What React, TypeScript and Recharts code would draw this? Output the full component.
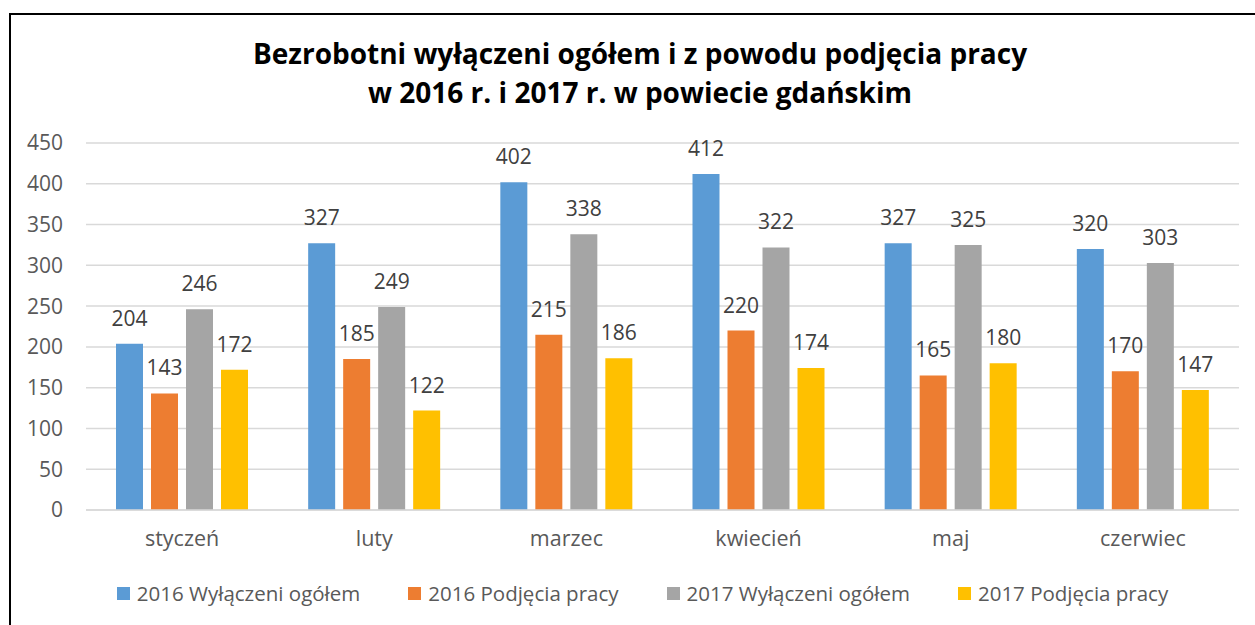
import { Bar, BarChart, CartesianGrid, LabelList, XAxis, YAxis } from "recharts";

const months = ["styczeń", "luty", "marzec", "kwiecień", "maj", "czerwiec"];
const total2016 = [204, 327, 402, 412, 327, 320];
const work2016 = [143, 185, 215, 220, 165, 170];
const total2017 = [246, 249, 338, 322, 325, 303];
const work2017 = [172, 122, 186, 174, 180, 147];
const yTicks = [0, 50, 100, 150, 200, 250, 300, 350, 400, 450];

const series = [
  { key: "t16", name: "2016 Wyłączeni ogółem", color: "#5B9BD5" },
  { key: "w16", name: "2016 Podjęcia pracy", color: "#ED7D31" },
  { key: "t17", name: "2017 Wyłączeni ogółem", color: "#A5A5A5" },
  { key: "w17", name: "2017 Podjęcia pracy", color: "#FFC000" },
];

const data = months.map((m, i) => ({
  month: m,
  t16: total2016[i],
  w16: work2016[i],
  t17: total2017[i],
  w17: work2017[i],
}));

const font = "'Open Sans', sans-serif";

export default function App() {
  return (
    <div
      style={{
        position: "fixed",
        inset: 0,
        overflow: "hidden",
        background: "#fff",
        fontFamily: font,
      }}
    >
      <div
        style={{
          position: "absolute",
          left: 9,
          top: 13,
          width: 1300,
          height: 700,
          border: "2px solid #000",
          boxSizing: "border-box",
        }}
      />
      <div
        style={{
          position: "absolute",
          left: 0,
          top: 34,
          width: 1280,
          textAlign: "center",
          fontWeight: 700,
          fontSize: 28,
          lineHeight: "39px",
          color: "#000",
        }}
      >
        Bezrobotni wyłączeni ogółem i z powodu podjęcia pracy
        <br />w 2016 r. i 2017 r. w powiecie gdańskim
      </div>
      <div style={{ position: "absolute", left: 0, top: 0 }}>
        <BarChart
          width={1255}
          height={560}
          data={data}
          margin={{ top: 143, right: 16, left: 0, bottom: 5 }}
          barSize={27}
          barGap={8}
        >
          <CartesianGrid vertical={false} stroke="#D9D9D9" strokeWidth={1.5} />
          <XAxis
            dataKey="month"
            height={45}
            tickLine={false}
            tickSize={0}
            tickMargin={21}
            axisLine={{ stroke: "#D9D9D9", strokeWidth: 1.5 }}
            tick={{ fill: "#595959", fontSize: 21.5, fontFamily: font }}
          />
          <YAxis
            width={86}
            domain={[0, 450]}
            ticks={yTicks}
            axisLine={false}
            tickLine={false}
            tickSize={0}
            tickMargin={23}
            tick={{ fill: "#595959", fontSize: 21, fontFamily: font }}
          />
          {series.map((s) => (
            <Bar key={s.key} dataKey={s.key} name={s.name} fill={s.color} isAnimationActive={false}>
              <LabelList
                dataKey={s.key}
                position="top"
                offset={18}
                fill="#404040"
                fontSize={21}
                fontFamily={font}
              />
            </Bar>
          ))}
        </BarChart>
      </div>
      <div
        style={{
          position: "absolute",
          left: 0,
          top: 579,
          width: 1285,
          display: "flex",
          justifyContent: "center",
          gap: 48,
          fontSize: 20.5,
          color: "#595959",
        }}
      >
        {series.map((s) => (
          <div key={s.key} style={{ display: "flex", alignItems: "center" }}>
            <span style={{ width: 13, height: 13, background: s.color, marginRight: 7 }} />
            <span>{s.name}</span>
          </div>
        ))}
      </div>
    </div>
  );
}
